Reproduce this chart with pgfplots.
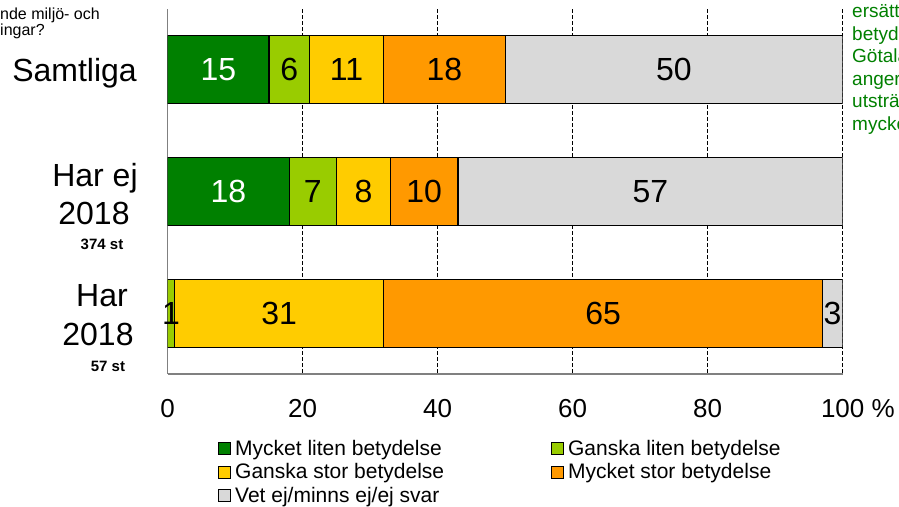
\documentclass[border=0pt]{standalone}
\usepackage{pgfplots}
\pgfplotsset{compat=1.18}
\usepackage{fontspec}
\setmainfont{Liberation Sans}
\definecolor{dgreen}{RGB}{0,128,0}
\definecolor{lgreen}{RGB}{153,204,0}
\definecolor{yel}{RGB}{255,204,0}
\definecolor{ora}{RGB}{255,153,0}
\definecolor{lgray}{RGB}{217,217,217}
\definecolor{txtgreen}{RGB}{0,128,0}
\definecolor{axgray}{RGB}{128,128,128}
\begin{document}
\begin{tikzpicture}[x=1pt,y=1pt]
\path[use as bounding box] (0,0) rectangle (899,506);
\clip (0,0) rectangle (899,506);
\begin{axis}[
  at={(167.7pt,132pt)}, anchor=south west,
  scale only axis, width=675pt, height=365pt,
  xbar stacked, bar width=68pt,
  xmin=0, xmax=100, ymin=-0.5, ymax=2.5, y dir=reverse,
  axis x line=bottom, axis y line=left,
  axis line style={-, draw=axgray, line width=1.2pt},
  xtick={0,20,40,60,80,100},
  xticklabels={0,20,40,60,80,{100\rlap{ \%}}},
  ytick=\empty,
  major tick length=0pt,
  xmajorgrids,
  grid style={black, dash pattern=on 4pt off 2pt, line width=1.2pt},
  tick label style={font=\fontsize{26}{30}\selectfont},
  xticklabel style={yshift=-22pt},
  visualization depends on={rawx \as \rawx},
  nodes near coords={\ifdim\rawx pt<0.5pt\else\pgfmathprintnumber[fixed,precision=0,assume math mode=true]{\rawx}\fi},
  every node near coord/.append style={anchor=center, black,
     font=\fontsize{32}{36}\selectfont},
  legend style={at={(0.0745,-0.176)}, anchor=north west, draw=none, fill=none,
     inner sep=0pt, font=\fontsize{21}{24}\selectfont,
     /tikz/every even column/.append style={column sep=105pt},
     /tikz/every odd column/.append style={column sep=2pt},
     row sep=2.5pt},
  legend columns=2,
  legend cell align=left,
  legend image code/.code={\draw[#1, line width=1pt] (0pt,-6pt) rectangle (12pt,6pt);},
]
\addplot[fill=dgreen, draw=black, line width=1.2pt,
  every node near coord/.append style={text=white}]
  coordinates {(15,0) (18,1) (0,2)};
\addplot[fill=lgreen, draw=black, line width=1.2pt]
  coordinates {(6,0) (7,1) (1,2)};
\addplot[fill=yel, draw=black, line width=1.2pt]
  coordinates {(11,0) (8,1) (31,2)};
\addplot[fill=ora, draw=black, line width=1.2pt]
  coordinates {(18,0) (10,1) (65,2)};
\addplot[fill=lgray, draw=black, line width=1.2pt]
  coordinates {(50,0) (57,1) (3,2)};
\legend{Mycket liten betydelse, Ganska liten betydelse, Ganska stor betydelse, Mycket stor betydelse, Vet ej/minns ej/ej svar}
\end{axis}
% category labels
\begingroup
\fontsize{32}{36}\selectfont
\node[anchor=base east, inner sep=0pt] at (137,{506-82}) {Samtliga};
\node[anchor=base, inner sep=0pt] at (95,{506-187}) {Har ej};
\node[anchor=base, inner sep=0pt] at (94,{506-225}) {2018};
\node[anchor=base, inner sep=0pt] at (102,{506-307}) {Har};
\node[anchor=base, inner sep=0pt] at (98,{506-346}) {2018};
\endgroup
\node[anchor=base, inner sep=0pt, font=\fontsize{15}{18}\selectfont\bfseries] at (102,{506-250}) {374 st};
\node[anchor=base, inner sep=0pt, font=\fontsize{15}{18}\selectfont\bfseries] at (108,{506-372}) {57 st};
% cropped question text
\node[anchor=base west, inner sep=0pt, font=\fontsize{16}{19}\selectfont] at (0,{506-20}) {nde miljö- och};
\node[anchor=base west, inner sep=0pt, font=\fontsize{16}{19}\selectfont] at (0,{506-36}) {ingar?};
% cropped comment text
\begingroup
\fontsize{19}{22}\selectfont
\node[anchor=base west, inner sep=0pt, text=txtgreen] at (852,{506-18}) {ersättning};
\node[anchor=base west, inner sep=0pt, text=txtgreen] at (852,{506-40.5}) {betydelse};
\node[anchor=base west, inner sep=0pt, text=txtgreen] at (852,{506-63}) {Götaland};
\node[anchor=base west, inner sep=0pt, text=txtgreen] at (852,{506-85.5}) {anger};
\node[anchor=base west, inner sep=0pt, text=txtgreen] at (852,{506-108}) {utsträckning};
\node[anchor=base west, inner sep=0pt, text=txtgreen] at (852,{506-130.5}) {mycket};
\endgroup
\end{tikzpicture}
\end{document}
